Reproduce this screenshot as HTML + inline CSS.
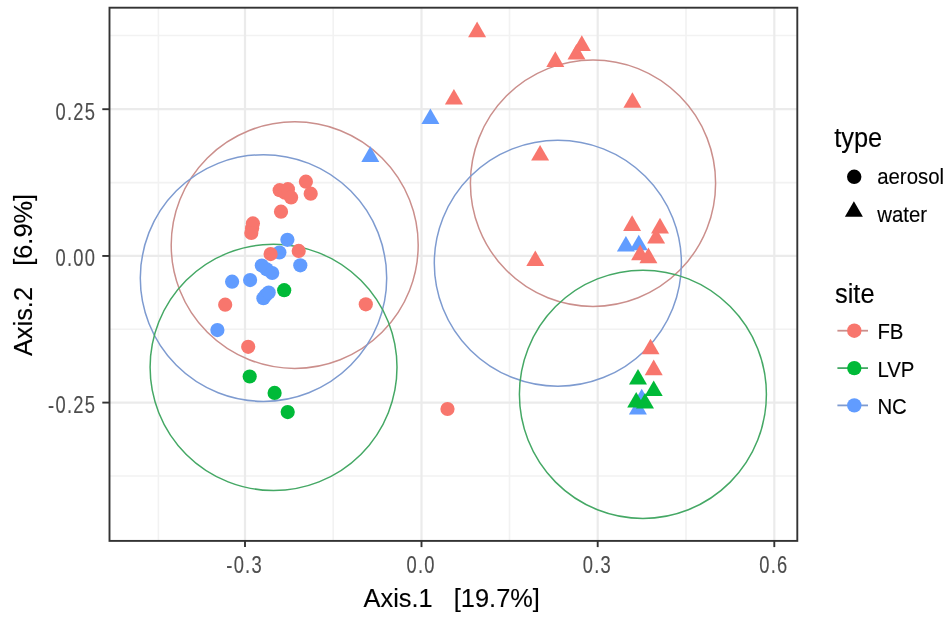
<!DOCTYPE html>
<html><head><meta charset="utf-8"><style>
html,body{margin:0;padding:0;background:#fff;width:950px;height:623px;overflow:hidden;}
svg{display:block;font-family:"Liberation Sans",sans-serif;filter:blur(0.45px);}
</style></head><body>
<svg width="950" height="623" viewBox="0 0 950 623">
<defs><clipPath id="pc"><rect x="109.5" y="7.7" width="687.8" height="533.1999999999999"/></clipPath></defs>
<rect width="950" height="623" fill="#fff"/>
<g clip-path="url(#pc)">
<line x1="158.4" y1="7.7" x2="158.4" y2="540.9" stroke="#F2F2F2" stroke-width="1.6"/>
<line x1="333.2" y1="7.7" x2="333.2" y2="540.9" stroke="#F2F2F2" stroke-width="1.6"/>
<line x1="509.5" y1="7.7" x2="509.5" y2="540.9" stroke="#F2F2F2" stroke-width="1.6"/>
<line x1="686.0" y1="7.7" x2="686.0" y2="540.9" stroke="#F2F2F2" stroke-width="1.6"/>
<line x1="109.5" y1="35.5" x2="797.3" y2="35.5" stroke="#F2F2F2" stroke-width="1.6"/>
<line x1="109.5" y1="182.6" x2="797.3" y2="182.6" stroke="#F2F2F2" stroke-width="1.6"/>
<line x1="109.5" y1="329.2" x2="797.3" y2="329.2" stroke="#F2F2F2" stroke-width="1.6"/>
<line x1="109.5" y1="476.0" x2="797.3" y2="476.0" stroke="#F2F2F2" stroke-width="1.6"/>
<line x1="245.0" y1="7.7" x2="245.0" y2="540.9" stroke="#EBEBEB" stroke-width="2.2"/>
<line x1="421.5" y1="7.7" x2="421.5" y2="540.9" stroke="#EBEBEB" stroke-width="2.2"/>
<line x1="597.7" y1="7.7" x2="597.7" y2="540.9" stroke="#EBEBEB" stroke-width="2.2"/>
<line x1="774.3" y1="7.7" x2="774.3" y2="540.9" stroke="#EBEBEB" stroke-width="2.2"/>
<line x1="109.5" y1="109.2" x2="797.3" y2="109.2" stroke="#EBEBEB" stroke-width="2.2"/>
<line x1="109.5" y1="255.95" x2="797.3" y2="255.95" stroke="#EBEBEB" stroke-width="2.2"/>
<line x1="109.5" y1="402.6" x2="797.3" y2="402.6" stroke="#EBEBEB" stroke-width="2.2"/>
<ellipse cx="294.7" cy="245.1" rx="123.5" ry="123.3" transform="rotate(0 294.7 245.1)" fill="none" stroke="#CB8F8C" stroke-width="1.5"/>
<ellipse cx="263.5" cy="278.05" rx="123.2" ry="123.35" transform="rotate(0 263.5 278.05)" fill="none" stroke="#7E9BD0" stroke-width="1.5"/>
<ellipse cx="273.55" cy="367.35" rx="123.45" ry="123.15" transform="rotate(0 273.55 367.35)" fill="none" stroke="#45A865" stroke-width="1.5"/>
<ellipse cx="593.0" cy="183.2" rx="122.6" ry="123.2" transform="rotate(0 593.0 183.2)" fill="none" stroke="#CB8F8C" stroke-width="1.5"/>
<ellipse cx="557.85" cy="263.2" rx="123.55" ry="123.0" transform="rotate(0 557.85 263.2)" fill="none" stroke="#7E9BD0" stroke-width="1.5"/>
<ellipse cx="642.9" cy="394.35" rx="123.5" ry="124.15" transform="rotate(0 642.9 394.35)" fill="none" stroke="#45A865" stroke-width="1.5"/>
<circle cx="287.4" cy="239.8" r="7.1" fill="#619CFF"/>
<circle cx="266.6" cy="269.3" r="7.1" fill="#619CFF"/>
<circle cx="265.9" cy="295.0" r="7.1" fill="#619CFF"/>
<circle cx="279.4" cy="252.5" r="7.1" fill="#619CFF"/>
<circle cx="300.3" cy="265.3" r="7.1" fill="#619CFF"/>
<circle cx="261.8" cy="265.6" r="7.1" fill="#619CFF"/>
<circle cx="272.2" cy="273.0" r="7.1" fill="#619CFF"/>
<circle cx="250.1" cy="280.1" r="7.1" fill="#619CFF"/>
<circle cx="232.1" cy="281.7" r="7.1" fill="#619CFF"/>
<circle cx="263.4" cy="298.2" r="7.1" fill="#619CFF"/>
<circle cx="268.7" cy="292.6" r="7.1" fill="#619CFF"/>
<circle cx="217.4" cy="330.1" r="7.1" fill="#619CFF"/>
<circle cx="279.7" cy="190.2" r="7.1" fill="#F8766D"/>
<circle cx="285.0" cy="192.7" r="7.1" fill="#F8766D"/>
<circle cx="252.1" cy="228.2" r="7.1" fill="#F8766D"/>
<circle cx="287.9" cy="189.2" r="7.1" fill="#F8766D"/>
<circle cx="291.1" cy="197.4" r="7.1" fill="#F8766D"/>
<circle cx="305.9" cy="181.7" r="7.1" fill="#F8766D"/>
<circle cx="310.7" cy="193.7" r="7.1" fill="#F8766D"/>
<circle cx="281.0" cy="211.7" r="7.1" fill="#F8766D"/>
<circle cx="252.9" cy="223.4" r="7.1" fill="#F8766D"/>
<circle cx="251.3" cy="233.0" r="7.1" fill="#F8766D"/>
<circle cx="270.6" cy="254.1" r="7.1" fill="#F8766D"/>
<circle cx="298.7" cy="250.9" r="7.1" fill="#F8766D"/>
<circle cx="225.2" cy="304.7" r="7.1" fill="#F8766D"/>
<circle cx="248.2" cy="346.8" r="7.1" fill="#F8766D"/>
<circle cx="365.8" cy="304.3" r="7.1" fill="#F8766D"/>
<circle cx="447.5" cy="409.0" r="7.1" fill="#F8766D"/>
<circle cx="284.2" cy="290.2" r="7.1" fill="#00BA38"/>
<circle cx="249.7" cy="376.5" r="7.1" fill="#00BA38"/>
<circle cx="274.6" cy="392.9" r="7.1" fill="#00BA38"/>
<circle cx="287.7" cy="412.1" r="7.1" fill="#00BA38"/>
<polygon points="430.4,108.5 439.4,124.1 421.4,124.1" fill="#619CFF"/>
<polygon points="370.3,146.3 379.3,161.9 361.3,161.9" fill="#619CFF"/>
<polygon points="625.9,235.9 634.9,251.5 616.9,251.5" fill="#619CFF"/>
<polygon points="638.8,234.7 647.8,250.3 629.8,250.3" fill="#619CFF"/>
<polygon points="641.7,388.7 650.7,404.3 632.7,404.3" fill="#619CFF"/>
<polygon points="637.9,399.0 646.9,414.6 628.9,414.6" fill="#619CFF"/>
<polygon points="477.1,21.6 486.1,37.2 468.1,37.2" fill="#F8766D"/>
<polygon points="453.9,89.0 462.9,104.6 444.9,104.6" fill="#F8766D"/>
<polygon points="555.3,51.3 564.3,66.9 546.3,66.9" fill="#F8766D"/>
<polygon points="576.5,44.0 585.5,59.6 567.5,59.6" fill="#F8766D"/>
<polygon points="581.8,35.3 590.8,50.9 572.8,50.9" fill="#F8766D"/>
<polygon points="632.4,92.2 641.4,107.8 623.4,107.8" fill="#F8766D"/>
<polygon points="540.1,144.9 549.1,160.5 531.1,160.5" fill="#F8766D"/>
<polygon points="535.3,250.5 544.3,266.1 526.3,266.1" fill="#F8766D"/>
<polygon points="632.1,215.3 641.1,230.9 623.1,230.9" fill="#F8766D"/>
<polygon points="660.0,217.8 669.0,233.4 651.0,233.4" fill="#F8766D"/>
<polygon points="656.1,228.0 665.1,243.6 647.1,243.6" fill="#F8766D"/>
<polygon points="640.1,244.6 649.1,260.2 631.1,260.2" fill="#F8766D"/>
<polygon points="648.4,247.6 657.4,263.2 639.4,263.2" fill="#F8766D"/>
<polygon points="650.5,338.7 659.5,354.3 641.5,354.3" fill="#F8766D"/>
<polygon points="653.7,359.6 662.7,375.2 644.7,375.2" fill="#F8766D"/>
<polygon points="638.0,369.0 647.0,384.6 629.0,384.6" fill="#00BA38"/>
<polygon points="653.7,380.4 662.7,396.0 644.7,396.0" fill="#00BA38"/>
<polygon points="636.2,392.0 645.2,407.6 627.2,407.6" fill="#00BA38"/>
<polygon points="645.0,393.0 654.0,408.6 636.0,408.6" fill="#00BA38"/>
</g>
<rect x="109.5" y="7.7" width="687.8" height="533.2" fill="none" stroke="#333" stroke-width="1.9"/>
<line x1="245.0" y1="540.9" x2="245.0" y2="547.1" stroke="#333" stroke-width="1.9"/>
<line x1="421.5" y1="540.9" x2="421.5" y2="547.1" stroke="#333" stroke-width="1.9"/>
<line x1="597.7" y1="540.9" x2="597.7" y2="547.1" stroke="#333" stroke-width="1.9"/>
<line x1="774.3" y1="540.9" x2="774.3" y2="547.1" stroke="#333" stroke-width="1.9"/>
<line x1="109.5" y1="109.2" x2="102.3" y2="109.2" stroke="#333" stroke-width="1.9"/>
<line x1="109.5" y1="255.95" x2="102.3" y2="255.95" stroke="#333" stroke-width="1.9"/>
<line x1="109.5" y1="402.6" x2="102.3" y2="402.6" stroke="#333" stroke-width="1.9"/>
<text transform="translate(96.20,119.50) scale(0.9,1.14)" font-size="20.4" fill="#4D4D4D" stroke="#4D4D4D" stroke-width="0.12" letter-spacing="1.4" text-anchor="end" xml:space="preserve">0.25</text>
<text transform="translate(96.20,266.25) scale(0.9,1.14)" font-size="20.4" fill="#4D4D4D" stroke="#4D4D4D" stroke-width="0.12" letter-spacing="1.4" text-anchor="end" xml:space="preserve">0.00</text>
<text transform="translate(96.20,412.90) scale(0.9,1.14)" font-size="20.4" fill="#4D4D4D" stroke="#4D4D4D" stroke-width="0.12" letter-spacing="1.4" text-anchor="end" xml:space="preserve">-0.25</text>
<text transform="translate(244.60,572.90) scale(0.9,1.14)" font-size="20.4" fill="#4D4D4D" stroke="#4D4D4D" stroke-width="0.12" letter-spacing="1.4" text-anchor="middle" xml:space="preserve">-0.3</text>
<text transform="translate(421.10,572.90) scale(0.9,1.14)" font-size="20.4" fill="#4D4D4D" stroke="#4D4D4D" stroke-width="0.12" letter-spacing="1.4" text-anchor="middle" xml:space="preserve">0.0</text>
<text transform="translate(597.30,572.90) scale(0.9,1.14)" font-size="20.4" fill="#4D4D4D" stroke="#4D4D4D" stroke-width="0.12" letter-spacing="1.4" text-anchor="middle" xml:space="preserve">0.3</text>
<text transform="translate(773.90,572.90) scale(0.9,1.14)" font-size="20.4" fill="#4D4D4D" stroke="#4D4D4D" stroke-width="0.12" letter-spacing="1.4" text-anchor="middle" xml:space="preserve">0.6</text>
<text transform="translate(451.70,607.30) scale(1.0,1.03)" font-size="25.4" fill="#000" stroke="#000" stroke-width="0.12" text-anchor="middle" xml:space="preserve">Axis.1   [19.7%]</text>
<text transform="translate(31.90,275.00) rotate(-90) scale(1.0,1.03)" font-size="25.4" fill="#000" stroke="#000" stroke-width="0.12" text-anchor="middle" xml:space="preserve">Axis.2   [6.9%]</text>
<text transform="translate(834.20,147.10) scale(1.0,1.06)" font-size="25.4" fill="#000" stroke="#000" stroke-width="0.12" text-anchor="start" xml:space="preserve">type</text>
<circle cx="854.2" cy="176.8" r="7.2" fill="#000"/>
<text transform="translate(877.20,184.10) scale(1.0,1.07)" font-size="20.4" fill="#000" stroke="#000" stroke-width="0.12" text-anchor="start" xml:space="preserve">aerosol</text>
<polygon points="853.9,201.2 862.9,216.8 844.9,216.8" fill="#000"/>
<text transform="translate(877.20,221.60) scale(1.0,1.07)" font-size="20.4" fill="#000" stroke="#000" stroke-width="0.12" text-anchor="start" xml:space="preserve">water</text>
<text transform="translate(835.00,303.40) scale(1.0,1.06)" font-size="25.4" fill="#000" stroke="#000" stroke-width="0.12" text-anchor="start" xml:space="preserve">site</text>
<line x1="837.4" y1="330.7" x2="868.0" y2="330.7" stroke="#CB8F8C" stroke-width="1.8"/>
<circle cx="854.3" cy="330.7" r="7.2" fill="#F8766D"/>
<text transform="translate(877.40,339.20) scale(1.0,1.07)" font-size="20.4" fill="#000" stroke="#000" stroke-width="0.12" text-anchor="start" xml:space="preserve">FB</text>
<line x1="837.4" y1="368.1" x2="868.0" y2="368.1" stroke="#45A865" stroke-width="1.8"/>
<circle cx="854.3" cy="368.1" r="7.2" fill="#00BA38"/>
<text transform="translate(877.40,376.60) scale(1.0,1.07)" font-size="20.4" fill="#000" stroke="#000" stroke-width="0.12" text-anchor="start" xml:space="preserve">LVP</text>
<line x1="837.4" y1="405.4" x2="868.0" y2="405.4" stroke="#7E9BD0" stroke-width="1.8"/>
<circle cx="854.3" cy="405.4" r="7.2" fill="#619CFF"/>
<text transform="translate(877.40,413.90) scale(1.0,1.07)" font-size="20.4" fill="#000" stroke="#000" stroke-width="0.12" text-anchor="start" xml:space="preserve">NC</text>
</svg>
</body></html>
